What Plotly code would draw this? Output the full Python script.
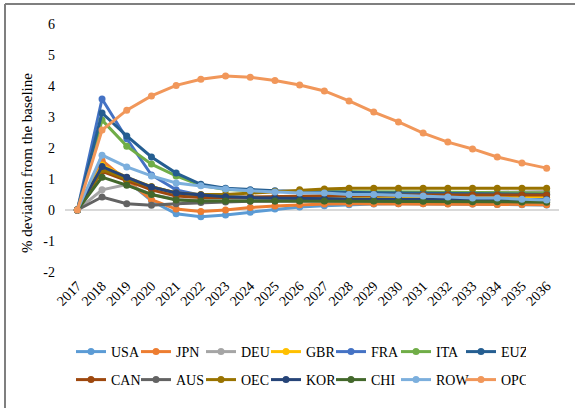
import plotly.graph_objects as go

years = [str(y) for y in range(2017, 2037)]
y_ticks = [-2, -1, 0, 1, 2, 3, 4, 5, 6]
y_tick_labels = ["-2", "-1", "0", "1", "2", "3", "4", "5", "6"]

USA = [0, 1.55, 0.95, 0.30, -0.12, -0.22, -0.16, -0.07, 0.03, 0.10, 0.14, 0.17, 0.19, 0.20, 0.20, 0.20, 0.19, 0.18, 0.17, 0.16]
JPN = [0, 1.60, 0.95, 0.33, 0.03, -0.05, 0.00, 0.08, 0.13, 0.17, 0.19, 0.20, 0.20, 0.20, 0.20, 0.19, 0.19, 0.18, 0.18, 0.17]
DEU = [0, 0.65, 0.82, 0.50, 0.35, 0.30, 0.30, 0.32, 0.35, 0.38, 0.42, 0.45, 0.48, 0.50, 0.52, 0.54, 0.56, 0.57, 0.58, 0.60]
GBR = [0, 1.45, 1.05, 0.75, 0.55, 0.45, 0.42, 0.40, 0.40, 0.40, 0.40, 0.40, 0.40, 0.40, 0.40, 0.40, 0.40, 0.40, 0.40, 0.40]
FRA = [0, 3.58, 2.30, 1.13, 0.65, 0.48, 0.42, 0.40, 0.38, 0.37, 0.36, 0.35, 0.35, 0.34, 0.34, 0.33, 0.33, 0.33, 0.32, 0.32]
ITA = [0, 2.90, 2.06, 1.48, 1.10, 0.80, 0.66, 0.62, 0.60, 0.60, 0.60, 0.59, 0.59, 0.58, 0.58, 0.57, 0.57, 0.56, 0.56, 0.55]
EUZ = [0, 3.13, 2.39, 1.71, 1.19, 0.83, 0.70, 0.65, 0.62, 0.60, 0.58, 0.57, 0.56, 0.55, 0.54, 0.53, 0.52, 0.51, 0.50, 0.50]
CAN = [0, 1.25, 0.95, 0.65, 0.45, 0.40, 0.40, 0.42, 0.44, 0.45, 0.46, 0.47, 0.48, 0.48, 0.48, 0.48, 0.48, 0.48, 0.48, 0.48]
AUS = [0, 0.42, 0.20, 0.15, 0.20, 0.24, 0.26, 0.28, 0.29, 0.30, 0.30, 0.30, 0.30, 0.30, 0.30, 0.30, 0.30, 0.30, 0.30, 0.30]
OEC = [0, 1.30, 1.00, 0.75, 0.55, 0.50, 0.50, 0.55, 0.60, 0.65, 0.68, 0.70, 0.70, 0.70, 0.70, 0.70, 0.70, 0.70, 0.70, 0.70]
KOR = [0, 1.40, 1.06, 0.74, 0.55, 0.48, 0.43, 0.40, 0.38, 0.37, 0.36, 0.35, 0.35, 0.35, 0.34, 0.34, 0.34, 0.34, 0.34, 0.34]
CHI = [0, 1.06, 0.80, 0.50, 0.32, 0.29, 0.29, 0.29, 0.29, 0.29, 0.29, 0.29, 0.29, 0.29, 0.28, 0.28, 0.27, 0.27, 0.26, 0.25]
ROW = [0, 1.77, 1.39, 1.10, 0.87, 0.78, 0.68, 0.62, 0.58, 0.55, 0.55, 0.50, 0.50, 0.48, 0.45, 0.42, 0.39, 0.39, 0.35, 0.32]
OPC = [0, 2.58, 3.22, 3.68, 4.02, 4.22, 4.32, 4.28, 4.18, 4.03, 3.84, 3.52, 3.16, 2.84, 2.48, 2.19, 1.97, 1.71, 1.52, 1.35]

series = [
    ("USA", USA, "#5B9BD5"), ("JPN", JPN, "#ED7D31"), ("DEU", DEU, "#A5A5A5"),
    ("GBR", GBR, "#FFC000"), ("FRA", FRA, "#4472C4"), ("ITA", ITA, "#70AD47"),
    ("EUZ", EUZ, "#255E91"), ("CAN", CAN, "#9E480E"), ("AUS", AUS, "#636363"),
    ("OEC", OEC, "#997300"), ("KOR", KOR, "#264478"), ("CHI", CHI, "#43682B"),
    ("ROW", ROW, "#7CAFDD"), ("OPC", OPC, "#F1975A"),
]

fig = go.Figure()
for i, (name, vals, col) in enumerate(series):
    fig.add_trace(go.Scatter(
        x=years, y=vals, name=name, mode="lines+markers",
        line=dict(color=col, width=3), marker=dict(color=col, size=7),
        legend="legend" if i < 7 else "legend2",
    ))

W, H = 575, 408
ml, mr, mt, mb = 65, 16, 24, 136
pw, ph = W - ml - mr, H - mt - mb
def px(x): return (x - ml) / pw
def py(y): return (H - mb - y) / ph

font = "Liberation Serif"
legend_common = dict(orientation="h", xref="container", yref="container",
                     xanchor="left", yanchor="middle", entrywidth=20, entrywidthmode="pixels",
                     font=dict(family=font, size=14, color="#000"), itemwidth=30,
                     bgcolor="rgba(0,0,0,0)")

fig.update_layout(
    width=W, height=H, margin=dict(l=ml, r=mr, t=mt, b=mb),
    paper_bgcolor="white", plot_bgcolor="white",
    font=dict(family=font, color="#000"),
    xaxis=dict(type="category", range=[-0.5, len(years) - 0.5], tickangle=-45,
               showgrid=False, showline=False, zeroline=False,
               tickfont=dict(family=font, size=14, color="#000"), ticks="",
               ticklabelstandoff=2),
    yaxis=dict(range=[-2, 6], tickvals=y_ticks, ticktext=y_tick_labels,
               showgrid=False, showline=False, zeroline=True,
               zerolinecolor="#D9D9D9", zerolinewidth=1.5,
               tickfont=dict(family=font, size=14, color="#000"), ticks="",
               ticklabelstandoff=9),
    legend=dict(x=71 / W, y=1 - 352 / H, **legend_common),
    legend2=dict(x=71 / W, y=1 - 380 / H, **legend_common),
    showlegend=True,
    annotations=[dict(text="% deviation from the baseline", textangle=-90,
                      xref="paper", yref="paper", x=px(17), y=py(163),
                      showarrow=False, font=dict(family=font, size=15, color="#000"))],
    shapes=[
        dict(type="line", xref="paper", yref="paper", x0=px(5), x1=px(575), y0=py(4), y1=py(4),
             line=dict(color="#7F7F7F", width=2)),
        dict(type="line", xref="paper", yref="paper", x0=px(5), x1=px(5), y0=py(4), y1=py(408),
             line=dict(color="#7F7F7F", width=2)),
    ],
)

fig.write_html("out.html")
